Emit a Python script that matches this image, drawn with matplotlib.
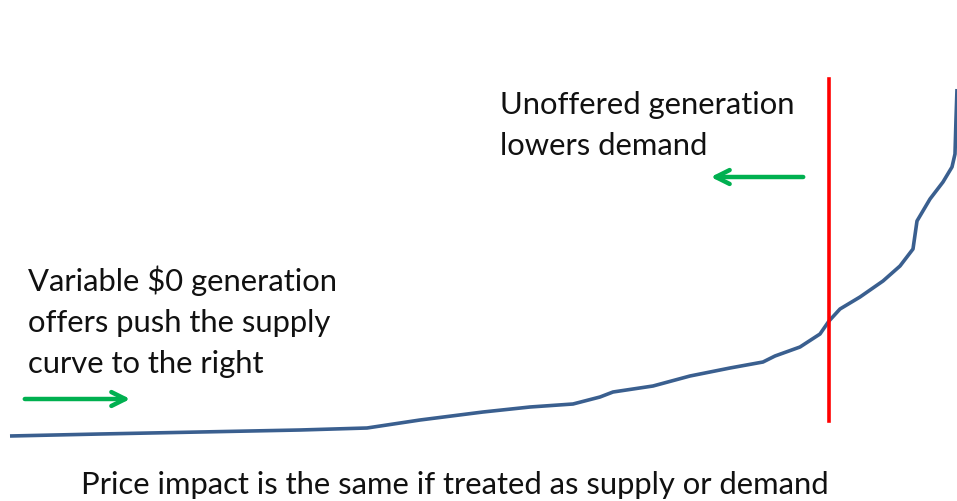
import numpy as np
import matplotlib
matplotlib.use("Agg")
import matplotlib.pyplot as plt

# supply curve (capacity, price)
capacity = [0, 9, 19, 29, 35.7, 41, 47.3, 52, 56.3, 59, 60.3, 64.3, 68, 72, 75.3,
            76.5, 79, 81, 81.9, 83, 85, 87.3, 89, 90.3, 90.7, 92, 93.3, 94.2,
            94.5, 94.6, 94.7]
price = [0, 1, 2, 3, 4, 8, 12, 14.5, 16, 19.5, 22, 25, 30, 34, 37,
         40, 44.5, 51, 57.5, 63.5, 69.5, 77.5, 85, 93.5, 107.5, 118.5, 127, 134.5,
         141, 158.5, 173.5]
demand_x = 81.9
demand_price = [7.5, 178.5]

plt.rcParams['font.family'] = ['Lato', 'DejaVu Sans']

fig = plt.figure(figsize=(9.57, 5.02), dpi=100)
ax = fig.add_axes([0, 0, 1, 1])
ax.set_xlim(-1, 94.7)
ax.set_ylim(-32.5, 218.5)
ax.axis('off')

ax.plot(capacity, price, color='#3A5F8F', lw=2.6, solid_capstyle='butt')
ax.plot([demand_x, demand_x], demand_price, color='#FF0000', lw=2.6)

green = '#00B050'
ax.annotate('', xy=(12.3, 18.5), xytext=(1.2, 18.5),
            arrowprops=dict(arrowstyle='->,head_length=1.0,head_width=0.5', color=green, lw=3.2))
ax.annotate('', xy=(69.8, 129.5), xytext=(79.6, 129.5),
            arrowprops=dict(arrowstyle='->,head_length=1.0,head_width=0.5', color=green, lw=3.2))

fs = 22.3
fig.text(500 / 957, 1 - 91 / 502, 'Unoffered generation\nlowers demand', fontsize=fs,
         va='top', ha='left', linespacing=1.58, color='#111111')
fig.text(28 / 957, 1 - 265 / 502, 'Variable $0 generation\noffers push the supply\ncurve to the right',
         fontsize=fs, va='top', ha='left', linespacing=1.58, color='#111111')
fig.text(455 / 957, 1 - 471 / 502, 'Price impact is the same if treated as supply or demand',
         fontsize=22.3, va='top', ha='center', color='#111111')

fig.savefig('out.png', dpi=100)
